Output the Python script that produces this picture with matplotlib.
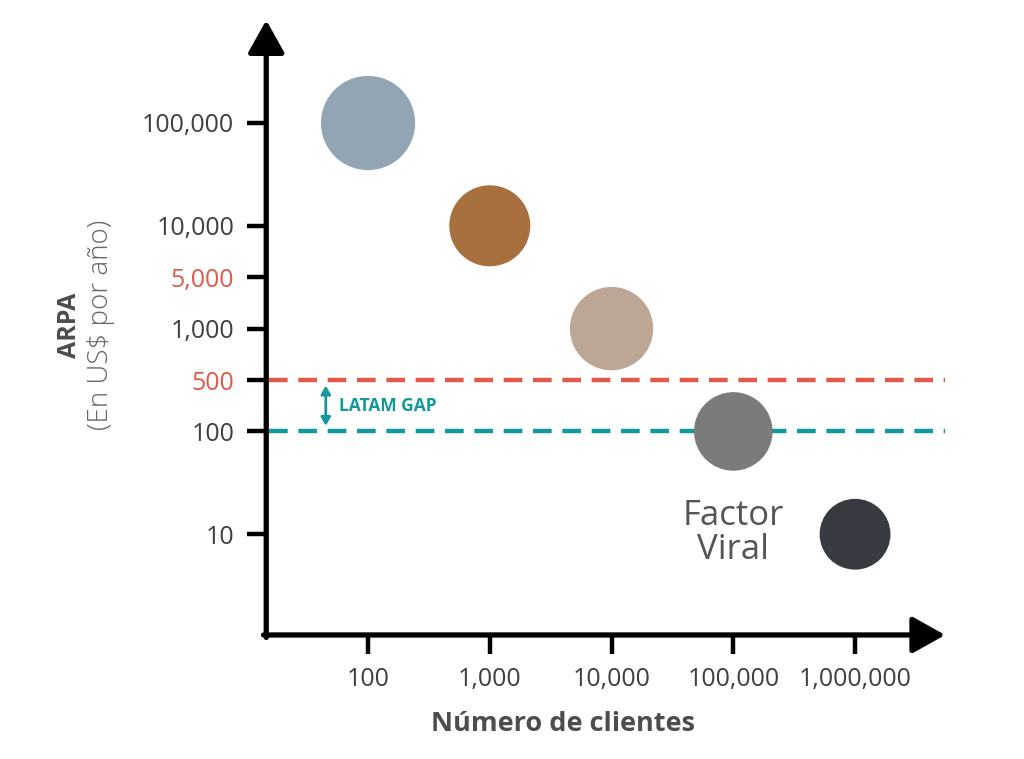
import numpy as np
import matplotlib
matplotlib.use("Agg")
import matplotlib.pyplot as plt

# tick values on each axis
x_ticks = [100, 1000, 10000, 100000, 1000000]
x_tick_labels = ["100", "1,000", "10,000", "100,000", "1,000,000"]
y_ticks = [10, 100, 500, 1000, 5000, 10000, 100000]
y_tick_labels = ["10", "100", "500", "1,000", "5,000", "10,000", "100,000"]
y_red_ticks = [500, 5000]

# animals: number of clients vs ARPA
animals = ["Elefante", "Ciervo", "Conejo", "Ratón", "Mosca"]
clients = [100, 1000, 10000, 100000, 1000000]
arpa = [100000, 10000, 1000, 100, 10]
animal_colors = ["#93a4b2", "#a8703e", "#bca796", "#7b7b7b", "#363b42"]
animal_sizes = [4600, 3400, 3600, 3200, 2600]

# reference lines
latam_top = 500
latam_bottom = 100

RED = "#e0594a"
TEAL = "#11999b"
GREY = "#3f3f3f"

# the y axis is log-like but 500 and 5,000 sit half way between decades
anchor_logs = [0, 1, 2, np.log10(500), 3, np.log10(5000), 4, 5, 6]
anchor_pos = [-1, 0, 1, 1.5, 2, 2.5, 3, 4, 5]


def y_forward(v):
    v = np.clip(np.asarray(v, dtype=float), 1e-3, None)
    return np.interp(np.log10(v), anchor_logs, anchor_pos)


def y_inverse(p):
    return 10 ** np.interp(p, anchor_pos, anchor_logs)


plt.rcParams["font.family"] = ["Open Sans", "DejaVu Sans"]

fig = plt.figure(figsize=(10.24, 7.59), dpi=100)
ax = fig.add_axes([0.26, 0.1634, 0.663, 0.81])

ax.set_xscale("log")
ax.set_yscale("function", functions=(y_forward, y_inverse))
ax.set_xlim(10 ** 1.164, 10 ** 6.74)
ax.set_ylim(y_inverse(-0.98), y_inverse(5.0))

for s in ax.spines.values():
    s.set_visible(False)

arrow_props = dict(arrowstyle="-|>,head_length=0.5,head_width=0.28", lw=3.8,
                   color="black", mutation_scale=40, shrinkA=0, shrinkB=0)
ax.annotate("", xy=(0, 1.0), xytext=(0, -0.004), xycoords="axes fraction",
            arrowprops=arrow_props, annotation_clip=False)
ax.annotate("", xy=(1.0, 0), xytext=(-0.004, 0), xycoords="axes fraction",
            arrowprops=arrow_props, annotation_clip=False)

ax.set_xticks(x_ticks)
ax.set_xticklabels(x_tick_labels)
ax.xaxis.set_minor_locator(matplotlib.ticker.NullLocator())
ax.set_yticks(y_ticks)
ax.set_yticklabels(y_tick_labels)
ax.yaxis.set_minor_locator(matplotlib.ticker.NullLocator())
ax.tick_params(axis="both", length=14, width=3.2, color="black",
               labelsize=18, labelcolor=GREY, pad=9)
for val, lab, tick in zip(y_ticks, ax.get_yticklabels(), ax.yaxis.get_major_ticks()):
    if val in y_red_ticks:
        lab.set_color(RED)
        tick.tick1line.set_color(RED)

ax.axhline(latam_top, xmin=0.004, xmax=1.0, color=RED, lw=3.2,
           dashes=(4.2, 2.4), clip_on=False)
ax.axhline(latam_bottom, xmin=0.004, xmax=1.0, color=TEAL, lw=3.2,
           dashes=(4.2, 2.4), clip_on=False)

ax.annotate("", xy=(45, latam_top), xytext=(45, latam_bottom),
            arrowprops=dict(arrowstyle="<|-|>,head_length=0.35,head_width=0.2",
                            color=TEAL, lw=2, mutation_scale=14,
                            shrinkA=4, shrinkB=4))
ax.text(58, y_inverse(1.245), "LATAM GAP", color=TEAL, fontsize=12.5,
        fontweight="bold", ha="left", va="center")

ax.scatter(clients, arpa, s=animal_sizes, c=animal_colors, zorder=3,
           edgecolors="none", clip_on=False)

ax.text(1e5, 10.2, "Factor\nViral", color="#555555", fontsize=25,
        ha="center", va="center", linespacing=1.0)

fig.text(0.55, 0.046, "Número de clientes", color="#4d4d4d", fontsize=19.5,
         fontweight="bold", ha="center", va="center")
fig.text(0.068, 0.572, "ARPA", color="#4d4d4d", fontsize=18, fontweight="bold",
         rotation=90, ha="center", va="center")
fig.text(0.099, 0.572, "(En US$ por año)", color="#666666", fontsize=20,
         fontweight="light", rotation=90, ha="center", va="center")

fig.savefig("out.png", dpi=100)
